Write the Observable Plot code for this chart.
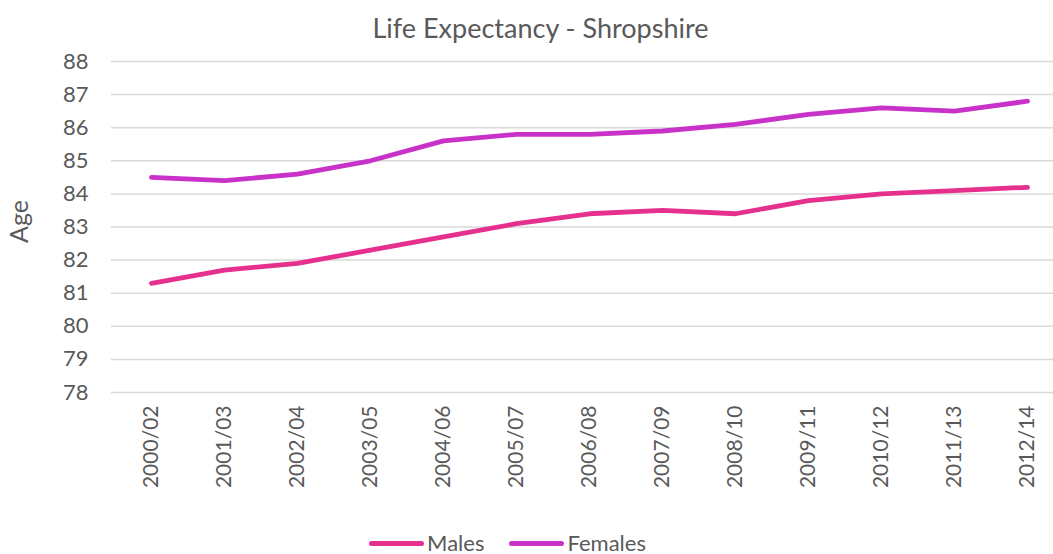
<!DOCTYPE html>
<html>
<head>
<meta charset="utf-8">
<script src="https://cdn.jsdelivr.net/npm/d3@7"></script>
<script src="https://cdn.jsdelivr.net/npm/@observablehq/plot@0.6"></script>
<style>
  html, body { margin: 0; padding: 0; background: #fff; overflow: hidden; }
  body { width: 1053px; height: 554px; font-family: Lato, "Open Sans", sans-serif; color: #595959; }
  #title { height: 40px; line-height: 56px; text-align: center; font-size: 27px; color: #595959; white-space: nowrap; padding-left: 28px; }
  #chart svg { display: block; }
  #legend { height: 46px; display: flex; justify-content: center; align-items: center; gap: 25px; font-size: 22px; line-height: 1; color: #595959; padding-right: 38px; }
  .item { display: flex; align-items: center; }
  .sw { width: 55px; height: 5px; border-radius: 3px; margin-right: 3px; }
</style>
</head>
<body>
<div id="title">Life Expectancy - Shropshire</div>
<div id="chart"></div>
<div id="legend"></div>
<script>
const periods = ["2000/02","2001/03","2002/04","2003/05","2004/06","2005/07","2006/08","2007/09","2008/10","2009/11","2010/12","2011/13","2012/14"];
const males   = [81.3, 81.7, 81.9, 82.3, 82.7, 83.1, 83.4, 83.5, 83.4, 83.8, 84.0, 84.1, 84.2];
const females = [84.5, 84.4, 84.6, 85.0, 85.6, 85.8, 85.8, 85.9, 86.1, 86.4, 86.6, 86.5, 86.8];
const seriesNames = ["Males", "Females"];
const seriesColors = ["#e6308e", "#c832c8"];
const yTicks = [78, 79, 80, 81, 82, 83, 84, 85, 86, 87, 88];
const yLabel = "Age";

const rows = [];
periods.forEach((p, i) => {
  rows.push({period: p, series: "Males", value: males[i]});
  rows.push({period: p, series: "Females", value: females[i]});
});

const chart = Plot.plot({
  width: 1053,
  height: 480,
  marginLeft: 111,
  marginRight: 0,
  marginTop: 21,
  marginBottom: 128,
  style: {fontFamily: "Lato, 'Open Sans', sans-serif", color: "#595959", background: "#fff", overflow: "visible"},
  x: {type: "point", domain: periods, range: [148, 1030], padding: 0},
  y: {domain: [78, 88]},
  color: {domain: seriesNames, range: seriesColors},
  marks: [
    Plot.ruleY(yTicks, {stroke: "#d9d9d9", strokeWidth: 1.5}),
    Plot.axisY({ticks: yTicks, tickSize: 0, tickPadding: 23, fontSize: 22, label: null}),
    Plot.axisX({tickSize: 0, tickPadding: 13, tickRotate: -90, fontSize: 21, label: null}),
    Plot.text([yLabel], {frameAnchor: "left", rotate: -90, dx: -92, dy: 16, fontSize: 25, fill: "#595959"}),
    Plot.line(rows, {x: "period", y: "value", z: "series", stroke: "series", strokeWidth: 4.8, strokeLinecap: "round", strokeLinejoin: "round"})
  ]
});
document.getElementById("chart").appendChild(chart);

const legend = document.getElementById("legend");
seriesNames.forEach((name, i) => {
  const item = document.createElement("div");
  item.className = "item";
  const sw = document.createElement("div");
  sw.className = "sw";
  sw.style.background = seriesColors[i];
  const t = document.createElement("span");
  t.textContent = name;
  item.appendChild(sw);
  item.appendChild(t);
  legend.appendChild(item);
});
</script>
</body>
</html>
